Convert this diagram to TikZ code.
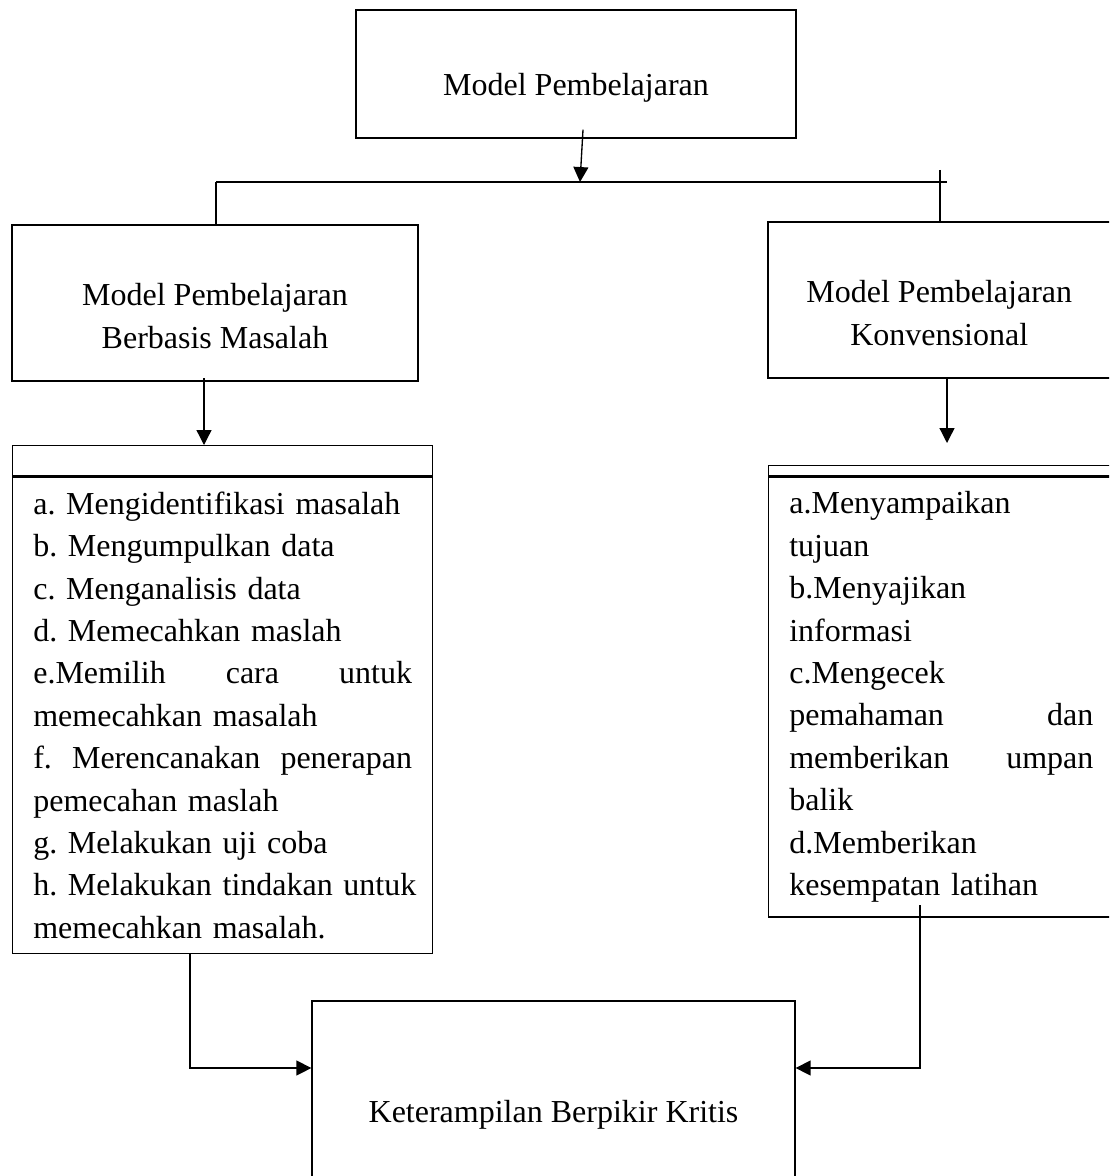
\documentclass[tikz,border=0pt]{standalone}
\usepackage{fontspec}
\setmainfont{Liberation Serif}
\usetikzlibrary{arrows.meta}
\newcommand\diagfont{\fontsize{12}{15.9}\selectfont\frenchspacing\hyphenpenalty=10000\relax}

\begin{document}
\begin{tikzpicture}[x=0.375pt,y=-0.375pt,line width=0.5pt,
  every node/.style={font=\diagfont},
  box/.style={draw},
  head/.style={draw,anchor=north west,inner sep=0pt},
  steps/.style={draw,anchor=north west,align=left,inner xsep=7.75pt,inner ysep=5.5pt},
  arr/.style={-{Triangle[length=5.6pt,width=5.6pt]}}]
\useasboundingbox (0,0) rectangle (1109,1176);
\clip (0,0) rectangle (1109,1176);

\node[box,minimum width=165pt,minimum height=48pt,text height=16.5pt,text depth=0pt] (model) at (576,74){Model Pembelajaran};
\node[box,minimum width=152.25pt,minimum height=58.5pt,align=center,text height=34pt,text depth=0pt] (pbm) at (215,303){Model Pembelajaran\\Berbasis Masalah};
\node[box,minimum width=128.4pt,minimum height=58.5pt,align=center,text height=34pt,text depth=0pt] (konv) at (939.25,300){Model Pembelajaran\\Konvensional};

\node[head,minimum width=157.5pt,minimum height=11.25pt] (pbmhead) at (12,445){};
\node[steps,text width=142pt] (pbmsteps) at (pbmhead.south west){a. Mengidentifikasi masalah\\
b. Mengumpulkan data\\
c. Menganalisis data\\
d. Memecahkan maslah\\
e.Memilih\hfill cara\hfill untuk\\
memecahkan masalah\\
f.\hfill Merencanakan\hfill penerapan\\
pemecahan maslah\\
g. Melakukan uji coba\\
\mbox{h. Melakukan tindakan untuk}\\
memecahkan masalah.};

\node[head,minimum width=129.5pt,minimum height=3.75pt] (konvhead) at (768,465){};
\node[steps,text width=114pt] (konvsteps) at (konvhead.south west){a.Menyampaikan\\
tujuan\\
b.Menyajikan\\
informasi\\
c.Mengecek\\
pemahaman\hfill dan\\
memberikan\hfill umpan\\
balik\\
d.Memberikan\\
kesempatan latihan};

\node[box,minimum width=181.1pt,minimum height=86.25pt,text height=8pt,text depth=3pt] (kritis) at (553.5,1116){Keterampilan Berpikir Kritis};

% cabang atas
\coordinate (busL) at (216,182);
\coordinate (busM) at (580,182);
\coordinate (busR) at (947,182);
\coordinate (tick) at (940,170);
\draw[arr] ([shift={(7,-9)}]model.south) -- (busM);
\draw (busL) -- (busR);
\draw (busL) -- (busL |- pbm.north);
\draw (tick) -- (tick |- konv.north);

% ke langkah-langkah
\coordinate (pa) at (204,378);
\coordinate (ka) at (947,378);
\coordinate (ktip) at (947,443);
\draw[arr] (pa) -- (pa |- pbmhead.north);
\draw[arr] (ka) -- (ktip);

% ke keterampilan
\coordinate (pd) at (190,1068);
\coordinate (ks) at (920,905);
\coordinate (kd) at (920,1068);
\draw[arr] (pd |- pbmsteps.south) -- (pd) -- (pd -| kritis.west);
\draw[arr] (ks) -- (kd) -- (kd -| kritis.east);
\end{tikzpicture}
\end{document}
